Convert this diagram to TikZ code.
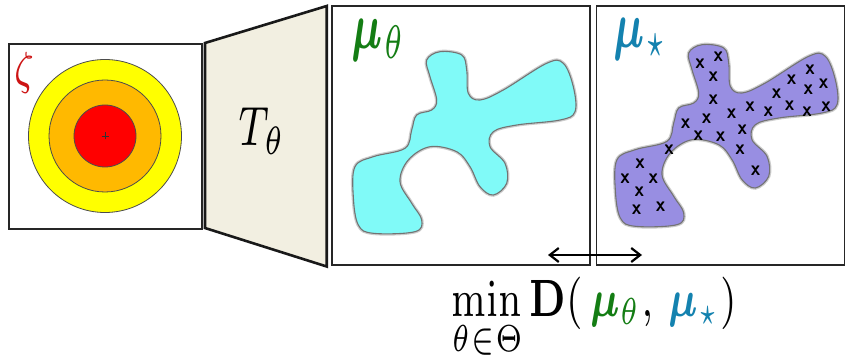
\RequirePackage{fix-cm}
\documentclass[tikz,border=0pt]{standalone}
\usepackage{amsmath,amssymb,bm}
\usetikzlibrary{arrows.meta}
\definecolor{cgreen}{RGB}{20,125,20}
\definecolor{cteal}{RGB}{20,130,175}
\definecolor{cred}{RGB}{205,20,20}
\definecolor{cring}{RGB}{255,0,0}
\definecolor{cyel}{RGB}{255,255,0}
\definecolor{corange}{RGB}{255,185,0}
\definecolor{cbeige}{RGB}{242,239,225}
\definecolor{ccyan}{RGB}{128,250,248}
\definecolor{cpurple}{RGB}{152,142,226}
\tikzset{
  frame/.style={draw=black!85, line width=1.4pt, fill=white, inner sep=0pt},
  ring/.style={draw=black!70, line width=0.8pt, circle, inner sep=0pt},
  lbl/.style={inner sep=0pt, outer sep=0pt, font=\fontsize{7}{8}\selectfont},
  xmark/.style={inner sep=0pt, font=\sffamily\bfseries, xscale=1.9, yscale=2.1},
  blobline/.style={draw=black!55, line width=1.1pt},
}
\newcommand\myblobshape[1]{%
  \draw[black!20, line width=3.5pt, shift={#1}] plot[smooth cycle, tension=0.6] coordinates {
    (426.7,60) (440,51.7) (461.7,55) (466.7,70) (468.3,93.3) (480,100) (503.3,90)
    (546.7,63.3) (563.3,63.3) (573.3,86.7) (575,111.7) (560,120) (516.7,125)
    (493.3,131.7) (490,146.7) (505,163.3) (506.7,183.3) (493.3,195) (480,186.7)
    (470,166.7) (456.7,151.7) (430,146.7) (408.3,160) (400,181.7) (411.7,203.3)
    (421.7,220) (415,231.7) (373.3,233.3) (358.3,225) (353.3,196.7) (355,166.7)
    (373.3,156.7) (405,148.3) (411.7,130) (416.7,115) (431.7,110) (436.7,100) (430,76.7)};
}
\newcommand\myblobfill[2]{%
  \filldraw[blobline, fill=#2, shift={#1}] plot[smooth cycle, tension=0.6] coordinates {
    (426.7,60) (440,51.7) (461.7,55) (466.7,70) (468.3,93.3) (480,100) (503.3,90)
    (546.7,63.3) (563.3,63.3) (573.3,86.7) (575,111.7) (560,120) (516.7,125)
    (493.3,131.7) (490,146.7) (505,163.3) (506.7,183.3) (493.3,195) (480,186.7)
    (470,166.7) (456.7,151.7) (430,146.7) (408.3,160) (400,181.7) (411.7,203.3)
    (421.7,220) (415,231.7) (373.3,233.3) (358.3,225) (353.3,196.7) (355,166.7)
    (373.3,156.7) (405,148.3) (411.7,130) (416.7,115) (431.7,110) (436.7,100) (430,76.7)};
}
\begin{document}
\begin{tikzpicture}[x=1pt,y=-1pt]
\useasboundingbox (0,0) rectangle (846,358);
% left box with rings
\node[frame, minimum width=193pt, minimum height=185pt] (zbox) at (105.5,136.5) {};
\node[ring, fill=cyel, minimum size=153pt] (r1) at (105,136) {};
\node[ring, fill=corange, minimum size=112pt] (r2) at (105,136) {};
\node[ring, fill=cring, minimum size=62pt] (r3) at (105,136) {};
\coordinate (c0) at (105,136);
\draw[black!80, line width=0.6pt] ([xshift=-3.5pt]c0) -- ([xshift=3.5pt]c0) ([yshift=-3.5pt]c0) -- ([yshift=3.5pt]c0);
\node[lbl, text=cred, xscale=5.0, yscale=6.6] (zeta) at (24,73) {$\zeta$};
% trapezoid
\draw[fill=cbeige, line width=2.6pt, line join=miter, draw=black!90] (205,43) -- (326.7,6) -- (326.7,266.5) -- (205,228) -- cycle;
\node[lbl, xscale=5.4, yscale=7.9] (T) at (262,131) {$T_\theta$};
% middle and right boxes
\node[frame, minimum width=258pt, minimum height=259pt] (mbox) at (461,135.5) {};
\node[frame, minimum width=248pt, minimum height=259pt] (sbox) at (720.5,135.5) {};
% blobs
\myblobshape{(0,0)}
\myblobfill{(0,0)}{ccyan}
\myblobshape{(262,-7)}
\myblobfill{(262,-7)}{cpurple}
% labels
\node[lbl, text=cgreen, xscale=5.6, yscale=9.4] (mut) at (379,40) {$\bm{\mu}_{\theta}$};
\node[lbl, text=cteal, xscale=5.6, yscale=9.4] (mus) at (641,39) {$\bm{\mu}_{\star}$};
% x marks
\foreach \p [count=\i] in {(700,63.3),(718.3,56.7),(713.3,76.7),(713.3,100),(731.7,113.3),(750,106.7),(768.3,111.7),(776.7,93.3),(791.7,80),(810,70),(823.5,83.3),(808.3,89.5),(789.5,105.5),(807,111.7),(826,106.7),(706.7,118.5),(685.5,124),(698.3,136),(720.7,136.7),(742.3,130),(740,150),(755.7,171),(669,150),(640,164),(625,178.3),(653.3,178.3),(639.3,192),(636.7,210),(660.7,206.7)}
  \node[xmark] (x\i) at \p {x};
% arrow
\coordinate (aL) at (548,255);
\coordinate (aR) at (642,255);
\draw[{Straight Barb[length=9pt,width=14pt]}-{Straight Barb[length=9pt,width=14pt]}, line width=2.2pt] (aL) -- (aR);
% formula
\node[lbl, xscale=5.3, yscale=7.5] (form) at (594,320) {$\displaystyle\min_{\theta\in\Theta}\mathbf{D}(\,\textcolor{cgreen}{\bm{\mu}_{\theta}},\,\textcolor{cteal}{\bm{\mu}_{\star}})$};
\end{tikzpicture}
\end{document}
